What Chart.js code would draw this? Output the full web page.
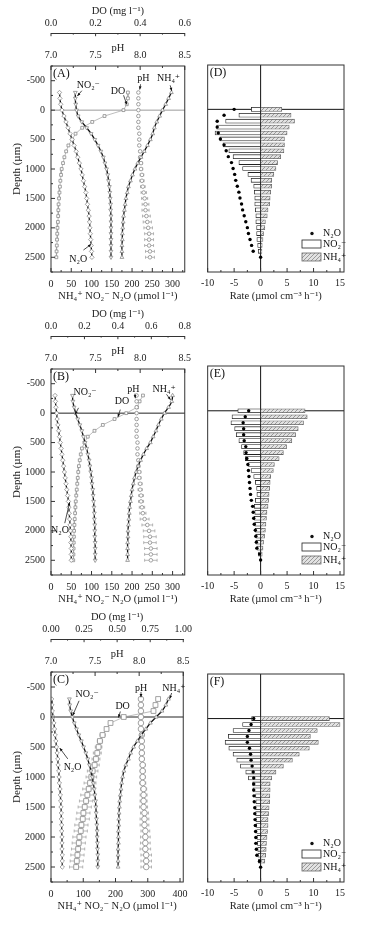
<!DOCTYPE html>
<html>
<head>
<meta charset="utf-8">
<script src="https://cdn.jsdelivr.net/npm/chart.js@4.4.1/dist/chart.umd.min.js"></script>
<style>
  body { margin: 0; background: #fff; width: 365px; height: 931px; position: relative; overflow: hidden; }
  canvas { position: absolute; }
</style>
</head>
<body>
<script>
// depth of each profile reading (µm)
const depths = [-300, -200, -100, 0, 100, 200, 300, 400, 500, 600, 700, 800, 900, 1000, 1100, 1200, 1300, 1400, 1500, 1600, 1700, 1800, 1900, 2000, 2100, 2200, 2300, 2400, 2500];
// depth of each rate bar / dot (µm)
const rateDepths = [0, 100, 200, 300, 400, 500, 600, 700, 800, 900, 1000, 1100, 1200, 1300, 1400, 1500, 1600, 1700, 1800, 1900, 2000, 2100, 2200, 2300, 2400, 2500];

// tick labels
const depthTicks = [-500, 0, 500, 1000, 1500, 2000, 2500];
const phTicks = [7.0, 7.5, 8.0, 8.5];
const concTicksAB = [0, 50, 100, 150, 200, 250, 300];
const concTicksC = [0, 100, 200, 300, 400];
const doTicksA = [0, 0.2, 0.4, 0.6];
const doTicksB = [0, 0.2, 0.4, 0.6, 0.8];
const doTicksC = [0, 0.25, 0.5, 0.75, 1.0];
const rateTicks = [-10, -5, 0, 5, 10, 15];

// panel A profiles
const aN2O = [21, 22, 24, 27, 32, 37, 42, 47, 52, 57, 62, 66, 70, 74, 77, 80, 83, 86, 88, 90, 92, 94, 95, 96, 97, 98, 99, 100, 101];
const aNO2 = [60, 60, 61, 63, 67, 76, 88, 99, 108, 116, 123, 129, 133, 137, 140, 142, 144, 145, 146, 147, 147, 148, 148, 148, 148, 148, 148, 148, 148];
const aNH4 = [297, 290, 283, 275, 268, 261, 255, 251, 245, 238, 230, 222, 214, 207, 201, 196, 191, 188, 185, 183, 181, 179, 178, 177, 176, 176, 175, 175, 175];
const aDO = [0.345, 0.345, 0.34, 0.325, 0.24, 0.185, 0.14, 0.11, 0.095, 0.078, 0.068, 0.06, 0.054, 0.048, 0.045, 0.042, 0.04, 0.038, 0.036, 0.034, 0.033, 0.032, 0.031, 0.029, 0.028, 0.027, 0.026, 0.025, 0.024];
const aPH = [7.98, 7.98, 7.98, 7.98, 7.98, 7.98, 7.98, 7.99, 7.99, 7.99, 8.00, 8.00, 8.01, 8.01, 8.02, 8.02, 8.03, 8.04, 8.05, 8.06, 8.06, 8.07, 8.08, 8.09, 8.10, 8.10, 8.10, 8.11, 8.11];
const aPHErr = [0.005, 0.005, 0.005, 0.005, 0.005, 0.005, 0.008, 0.008, 0.01, 0.01, 0.012, 0.014, 0.016, 0.018, 0.02, 0.024, 0.026, 0.03, 0.034, 0.038, 0.04, 0.044, 0.046, 0.048, 0.05, 0.05, 0.05, 0.05, 0.05];

// panel B profiles
const bN2O = [10, 11, 12, 14, 15, 17, 19, 21, 23, 25, 27, 29, 31, 33, 35, 37, 39, 41, 43, 44, 45, 46, 47, 48, 49, 49, 50, 50, 50];
const bNO2 = [53, 54, 57, 61, 66, 71, 76, 80, 84, 88, 91, 94, 96, 98, 100, 101, 103, 104, 105, 106, 107, 107, 108, 108, 108, 109, 109, 109, 109];
const bNH4 = [300, 298, 290, 280, 272, 265, 259, 252, 245, 236, 228, 221, 215, 210, 206, 203, 200, 198, 196, 194, 193, 192, 191, 190, 190, 189, 189, 189, 189];
const bDO = [0.55, 0.53, 0.515, 0.45, 0.38, 0.31, 0.26, 0.22, 0.2, 0.185, 0.178, 0.172, 0.167, 0.163, 0.16, 0.157, 0.154, 0.151, 0.148, 0.146, 0.144, 0.142, 0.14, 0.138, 0.137, 0.136, 0.135, 0.134, 0.133];
const bPH = [7.96, 7.96, 7.96, 7.96, 7.96, 7.96, 7.96, 7.96, 7.97, 7.97, 7.97, 7.98, 7.98, 7.99, 7.99, 8.00, 8.00, 8.01, 8.01, 8.02, 8.03, 8.05, 8.08, 8.10, 8.11, 8.11, 8.12, 8.12, 8.12];
const bPHErr = [0.005, 0.005, 0.005, 0.005, 0.005, 0.005, 0.006, 0.008, 0.008, 0.01, 0.012, 0.014, 0.016, 0.018, 0.02, 0.022, 0.024, 0.026, 0.028, 0.03, 0.035, 0.05, 0.06, 0.065, 0.07, 0.07, 0.07, 0.07, 0.07];

// panel C profiles
const cN2O = [2, 3, 4, 7, 9, 11, 13, 15, 17, 19, 21, 22, 24, 25, 26, 28, 29, 30, 31, 32, 32, 33, 33, 34, 34, 34, 35, 35, 35];
const cNO2 = [57, 58, 61, 66, 72, 79, 86, 94, 101, 108, 114, 119, 124, 128, 131, 134, 136, 138, 139, 140, 141, 142, 143, 143, 144, 144, 145, 145, 145];
const cNH4 = [364, 356, 344, 326, 308, 294, 280, 268, 256, 247, 240, 232, 226, 222, 219, 217, 215, 213, 212, 211, 210, 210, 209, 209, 209, 208, 208, 208, 208];
const cDO = [0.81, 0.79, 0.775, 0.55, 0.45, 0.42, 0.39, 0.37, 0.36, 0.35, 0.34, 0.33, 0.315, 0.305, 0.295, 0.285, 0.275, 0.265, 0.255, 0.245, 0.24, 0.23, 0.225, 0.215, 0.21, 0.205, 0.2, 0.195, 0.19];
const cDOErr = [0.005, 0.005, 0.005, 0.01, 0.01, 0.015, 0.02, 0.02, 0.025, 0.03, 0.03, 0.035, 0.04, 0.04, 0.045, 0.045, 0.05, 0.05, 0.05, 0.05, 0.05, 0.05, 0.05, 0.05, 0.05, 0.05, 0.05, 0.05, 0.05];
const cPH = [8.02, 8.02, 8.02, 8.02, 8.02, 8.02, 8.03, 8.03, 8.03, 8.03, 8.03, 8.04, 8.04, 8.04, 8.04, 8.05, 8.05, 8.05, 8.05, 8.06, 8.06, 8.06, 8.07, 8.07, 8.07, 8.07, 8.08, 8.08, 8.08];
const cPHErr = [0.01, 0.01, 0.01, 0.01, 0.015, 0.015, 0.02, 0.02, 0.02, 0.025, 0.025, 0.03, 0.03, 0.03, 0.035, 0.035, 0.04, 0.04, 0.045, 0.045, 0.05, 0.05, 0.05, 0.055, 0.055, 0.06, 0.06, 0.06, 0.06];

// rates (µmol cm-3 h-1), bars for 0..2400, dots for 0..2500
const dNO2 = [-1.75, -4.1, -6.6, -8.3, -8.6, -7.7, -7.1, -6.0, -5.2, -4.1, -3.4, -2.4, -1.8, -1.3, -1.2, -1.1, -1.1, -1.0, -0.9, -0.9, -0.75, -0.75, -0.7, -0.55, -0.45];
const dNH4 = [4.0, 5.75, 6.4, 5.4, 5.0, 4.5, 4.5, 4.4, 3.8, 3.2, 2.9, 2.5, 2.1, 2.1, 1.9, 1.8, 1.7, 1.4, 1.25, 0.9, 0.8, 0.55, 0.45, 0.3, 0.25];
const dN2O = [-5.0, -6.9, -8.2, -8.2, -8.0, -7.6, -6.9, -6.5, -6.1, -5.5, -5.2, -4.9, -4.7, -4.4, -4.1, -3.9, -3.6, -3.4, -3.1, -2.8, -2.5, -2.3, -2.0, -1.7, -1.4, 0];

const eNO2 = [-4.3, -5.4, -5.6, -4.9, -4.6, -4.1, -3.6, -3.2, -2.9, -2.3, -1.8, -1.3, -1.0, -0.75, -0.7, -1.0, -1.2, -1.1, -1.2, -1.1, -1.0, -0.9, -0.9, -0.7, -0.4];
const eNH4 = [8.4, 8.8, 8.1, 7.1, 6.6, 5.9, 4.9, 4.3, 3.5, 2.6, 2.4, 1.9, 1.8, 1.7, 1.6, 1.5, 1.4, 1.2, 1.1, 1.0, 0.9, 0.75, 0.55, 0.45, 0.3];
const eN2O = [-2.25, -2.9, -3.3, -3.2, -3.2, -3.1, -2.8, -2.75, -2.6, -2.4, -2.3, -2.2, -2.1, -2.0, -1.9, -1.75, -1.5, -1.4, -1.3, -1.2, -1.0, -0.9, -0.8, -0.7, -0.2, 0];

const fNO2 = [-1.7, -3.4, -5.2, -6.1, -6.7, -6.0, -5.2, -4.5, -3.8, -2.8, -2.3, -1.5, -1.45, -0.95, -0.9, -0.95, -0.95, -0.9, -0.8, -0.75, -0.7, -0.6, -0.55, -0.5, -0.4];
const fNH4 = [13.0, 15.0, 10.7, 9.4, 10.9, 9.2, 7.3, 6.0, 4.3, 2.9, 2.1, 1.8, 1.8, 1.75, 1.7, 1.6, 1.5, 1.4, 1.4, 1.3, 1.2, 1.1, 1.05, 0.95, 0.8];
const fN2O = [-1.3, -1.8, -2.2, -2.5, -2.5, -2.1, -1.9, -1.8, -1.6, -1.4, -1.3, -1.3, -1.3, -1.25, -1.2, -1.1, -1.1, -1.05, -1.0, -0.95, -0.9, -0.9, -0.8, -0.7, -0.2, 0];

const GRAY = '#8a8a8a';
const FONT = "'Liberation Serif', 'DejaVu Serif', serif";
Chart.defaults.font.family = FONT;
Chart.defaults.font.size = 10;
Chart.defaults.color = '#222';
Chart.defaults.animation = false;

// diagonal hatch for the NH4+ bars
function makeHatch() {
  const c = document.createElement('canvas');
  c.width = 4; c.height = 4;
  const g = c.getContext('2d');
  g.fillStyle = '#e2e2e2';
  g.fillRect(0, 0, 4, 4);
  g.strokeStyle = '#888';
  g.lineWidth = 0.8;
  g.beginPath();
  g.moveTo(0, 4); g.lineTo(4, 0);
  g.moveTo(-1, 1); g.lineTo(1, -1);
  g.moveTo(3, 5); g.lineTo(5, 3);
  g.stroke();
  return g.createPattern(c, 'repeat');
}
const HATCH = makeHatch();

function arrow(ctx, x1, y1, x2, y2) {
  const ang = Math.atan2(y2 - y1, x2 - x1);
  ctx.beginPath();
  ctx.moveTo(x1, y1);
  ctx.lineTo(x2, y2);
  ctx.stroke();
  ctx.beginPath();
  ctx.moveTo(x2, y2);
  ctx.lineTo(x2 - 3.5 * Math.cos(ang - 0.4), y2 - 3.5 * Math.sin(ang - 0.4));
  ctx.lineTo(x2 - 3.5 * Math.cos(ang + 0.4), y2 - 3.5 * Math.sin(ang + 0.4));
  ctx.closePath();
  ctx.fill();
}

// inward major/minor tick marks on one scale
function drawMarks(ctx, chart, spec) {
  const s = chart.scales[spec.id];
  const a = chart.chartArea;
  const vals = s.ticks.map(t => t.value);
  const list = [];
  const half = (vals[1] - vals[0]) / 2;
  vals.forEach((v, i) => {
    list.push([v, 4]);
    if (i < vals.length - 1) list.push([(v + vals[i + 1]) / 2, 2]);
  });
  if (vals[0] - half >= s.min) list.push([vals[0] - half, 2]);
  if (vals[vals.length - 1] + half <= s.max) list.push([vals[vals.length - 1] + half, 2]);
  ctx.beginPath();
  list.forEach(([v, len]) => {
    const p = s.getPixelForValue(v);
    if (spec.side === 'bottom') { ctx.moveTo(p, a.bottom); ctx.lineTo(p, a.bottom - len); }
    else if (spec.side === 'top') { ctx.moveTo(p, a.top); ctx.lineTo(p, a.top + len); }
    else if (spec.side === 'left') { ctx.moveTo(a.left, p); ctx.lineTo(a.left + len, p); }
    else { ctx.moveTo(p, s.bottom); ctx.lineTo(p, s.bottom + len * 0.8); }
  });
  ctx.stroke();
}

const decor = {
  id: 'decor',
  beforeDatasetsDraw(chart, args, o) {
    const { ctx, chartArea: a, scales } = chart;
    ctx.save();
    ctx.strokeStyle = o.zeroColor;
    ctx.lineWidth = 1;
    const y0 = scales.y.getPixelForValue(0);
    ctx.beginPath();
    ctx.moveTo(a.left, y0); ctx.lineTo(a.right, y0);
    if (o.vZero) {
      const x0 = scales.x.getPixelForValue(0);
      ctx.moveTo(x0, a.top); ctx.lineTo(x0, a.bottom);
    }
    ctx.stroke();
    // horizontal error bars
    ctx.strokeStyle = '#9a9a9a';
    ctx.lineWidth = 0.7;
    chart.data.datasets.forEach((ds, i) => {
      if (!ds.errs) return;
      const meta = chart.getDatasetMeta(i);
      const xs = chart.scales[meta.xAxisID];
      meta.data.forEach((pt, j) => {
        const v = ds.data[j].x, e = ds.errs[j];
        const x1 = xs.getPixelForValue(v - e), x2 = xs.getPixelForValue(v + e);
        ctx.beginPath();
        ctx.moveTo(x1, pt.y); ctx.lineTo(x2, pt.y);
        ctx.moveTo(x1, pt.y - 1.5); ctx.lineTo(x1, pt.y + 1.5);
        ctx.moveTo(x2, pt.y - 1.5); ctx.lineTo(x2, pt.y + 1.5);
        ctx.stroke();
      });
    });
    ctx.restore();
  },
  afterDraw(chart, args, o) {
    const { ctx, chartArea: a, scales } = chart;
    ctx.save();
    ctx.strokeStyle = '#333';
    ctx.lineWidth = 1;
    ctx.strokeRect(a.left, a.top, a.width, a.height);
    o.marks.forEach(m => drawMarks(ctx, chart, m));

    ctx.fillStyle = '#111';
    ctx.font = '12px ' + FONT;
    ctx.textAlign = 'left';
    ctx.textBaseline = 'middle';
    ctx.fillText(o.label, a.left + 2, a.top + 8);

    ctx.font = '10px ' + FONT;
    ctx.textAlign = 'center';
    ctx.lineWidth = 0.8;
    ctx.strokeStyle = '#222';
    ctx.fillStyle = '#111';
    const xs = scales.x, ys = scales.y;
    o.notes.forEach(n => {
      ctx.fillText(n.t, xs.getPixelForValue(n.x), ys.getPixelForValue(n.y));
      arrow(ctx, xs.getPixelForValue(n.sx), ys.getPixelForValue(n.sy), xs.getPixelForValue(n.ax), ys.getPixelForValue(n.ay));
    });

    if (o.legend) {
      const r = a.right, b = a.bottom;
      ctx.textAlign = 'left';
      ctx.beginPath();
      ctx.arc(r - 32, b - 38.5, 1.7, 0, Math.PI * 2);
      ctx.fill();
      ctx.fillText('N₂O', r - 21, b - 38.5);
      ctx.fillStyle = '#fff';
      ctx.fillRect(r - 42, b - 32, 19, 8);
      ctx.strokeRect(r - 42, b - 32, 19, 8);
      ctx.fillStyle = HATCH;
      ctx.fillRect(r - 42, b - 19, 19, 8);
      ctx.strokeStyle = '#666';
      ctx.strokeRect(r - 42, b - 19, 19, 8);
      ctx.fillStyle = '#111';
      ctx.fillText('NO₂⁻', r - 21, b - 28);
      ctx.fillText('NH₄⁺', r - 21, b - 15);
    }
    ctx.restore();
  }
};

function fixedTicks(list) {
  return scale => { scale.ticks = list.map(v => ({ value: v })); };
}

function hAxis(pos, min, max, ticks, digits, title, titlePad, labelPad, extra) {
  return Object.assign({
    type: 'linear',
    position: pos,
    min: min,
    max: max,
    afterBuildTicks: fixedTicks(ticks),
    afterFit: s => { s.height = 33; },
    grid: { display: false, drawTicks: false },
    border: { display: false },
    ticks: { autoSkip: false, maxRotation: 0, padding: labelPad, callback: v => v.toFixed(digits) },
    title: { display: true, text: title, font: { size: 10.5 }, padding: titlePad }
  }, extra || {});
}

function depthAxis() {
  return {
    type: 'linear',
    position: 'left',
    min: -750,
    max: 2750,
    reverse: true,
    afterBuildTicks: fixedTicks(depthTicks),
    afterFit: s => { s.width = 51; },
    grid: { display: false, drawTicks: false },
    border: { display: false },
    ticks: { autoSkip: false, padding: 6, callback: v => String(v) },
    title: { display: true, text: 'Depth (µm)', font: { size: 11 }, padding: { top: 11, bottom: 0 } }
  };
}

function canvasAt(left, top, w, h) {
  const c = document.createElement('canvas');
  c.width = w;
  c.height = h;
  c.style.cssText = `left:${left}px;top:${top}px;width:${w}px;height:${h}px`;
  document.body.appendChild(c);
  return c;
}

function pts(vals) {
  return depths.map((d, i) => ({ x: vals[i], y: d }));
}

function profileChart(canvas, p) {
  const line = { showLine: true, borderColor: '#111', borderWidth: 1.3, tension: 0.4, pointBorderColor: GRAY, pointBackgroundColor: '#fff', pointBorderWidth: 0.8, pointRadius: 2.2 };
  const datasets = [
    Object.assign({ xAxisID: 'x', data: pts(p.n2o), pointStyle: 'rectRot' }, line),
    Object.assign({ xAxisID: 'x', data: pts(p.no2), pointStyle: 'triangle', pointRotation: 180 }, line),
    Object.assign({ xAxisID: 'x', data: pts(p.nh4), pointStyle: 'triangle' }, line),
    { xAxisID: 'ph', data: pts(p.ph), errs: p.phErr, showLine: false, pointStyle: 'circle', pointRadius: p.big ? 2.8 : 1.8, pointBorderColor: GRAY, pointBackgroundColor: '#fff', pointBorderWidth: 0.8 },
    { xAxisID: 'do', data: pts(p.dox), errs: p.doErr, showLine: true, borderColor: '#a0a0a0', borderWidth: 0.7, pointStyle: 'rect', pointRadius: p.big ? 3.4 : 2, pointBorderColor: GRAY, pointBackgroundColor: '#fff', pointBorderWidth: 0.8 }
  ];
  return new Chart(canvas, {
    type: 'scatter',
    data: { datasets: datasets },
    options: {
      responsive: false,
      animation: false,
      layout: { padding: { left: 0, right: 8, top: 0, bottom: 0 } },
      plugins: {
        legend: { display: false },
        tooltip: { enabled: false },
        decor: {
          label: p.label,
          zeroColor: p.zeroColor,
          vZero: false,
          legend: false,
          notes: p.notes,
          marks: [{ id: 'x', side: 'bottom' }, { id: 'y', side: 'left' }, { id: 'ph', side: 'top' }, { id: 'do', side: 'line' }]
        }
      },
      scales: {
        x: hAxis('bottom', 0, p.concMax, p.concTicks, 0, 'NH₄⁺ NO₂⁻ N₂O (µmol l⁻¹)', { top: 0, bottom: 2 }, 6),
        ph: hAxis('top', 7, 8.5, phTicks, 1, 'pH', { top: 9, bottom: 0 }, 5, { weight: 0 }),
        do: hAxis('top', 0, p.doMax, p.doTicks, p.doDigits, 'DO (mg l⁻¹)', { top: 5, bottom: 0 }, 4,
          { weight: 1, border: { display: true, color: '#333', width: 1 } }),
        y: depthAxis()
      }
    },
    plugins: [decor]
  });
}

function rateChart(canvas, r, padTop) {
  const bars = vals => vals.map((v, i) => ({ x: v, y: rateDepths[i] }));
  const barStyle = { type: 'bar', grouped: false, barThickness: 4, borderSkipped: false, borderWidth: 0.8, order: 1 };
  return new Chart(canvas, {
    type: 'bar',
    data: {
      datasets: [
        { type: 'scatter', data: bars(r.n2o), pointRadius: 1.7, pointBackgroundColor: '#000', pointBorderWidth: 0, order: 0 },
        Object.assign({ data: bars(r.no2), backgroundColor: '#fff', borderColor: '#222' }, barStyle),
        Object.assign({ data: bars(r.nh4), backgroundColor: HATCH, borderColor: '#666' }, barStyle)
      ]
    },
    options: {
      indexAxis: 'y',
      responsive: false,
      animation: false,
      layout: { padding: { left: 11, right: 21, top: padTop, bottom: 0 } },
      plugins: {
        legend: { display: false },
        tooltip: { enabled: false },
        decor: { label: r.label, zeroColor: '#111', vZero: true, legend: true, notes: [], marks: [{ id: 'x', side: 'bottom' }] }
      },
      scales: {
        x: hAxis('bottom', -10, 15.75, rateTicks, 0, 'Rate (µmol cm⁻³ h⁻¹)', { top: 0, bottom: 2 }, 5, { beginAtZero: false }),
        y: { type: 'linear', min: -750, max: 2750, reverse: true, offset: false, display: false }
      }
    },
    plugins: [decor]
  });
}

profileChart(canvasAt(0, 0, 196, 305), {
  label: '(A)', zeroColor: '#9a9a9a', big: false,
  n2o: aN2O, no2: aNO2, nh4: aNH4, dox: aDO, ph: aPH, phErr: aPHErr, doErr: null,
  concMax: 330, concTicks: concTicksAB, doMax: 0.6, doTicks: doTicksA, doDigits: 1,
  notes: [
    { t: 'NO₂⁻', x: 92, y: -420, sx: 76, sy: -330, ax: 65, ay: -240 },
    { t: 'DO', x: 165, y: -321, sx: 179, sy: -253, ax: 187, ay: -96 },
    { t: 'pH', x: 228, y: -535, sx: 221, sy: -440, ax: 219, ay: -350 },
    { t: 'NH₄⁺', x: 290, y: -535, sx: 294, sy: -422, ax: 298, ay: -326 },
    { t: 'N₂O', x: 67, y: 2534, sx: 80, sy: 2377, ax: 99, ay: 2280 }
  ]
});

profileChart(canvasAt(0, 303, 196, 305), {
  label: '(B)', zeroColor: '#222', big: false,
  n2o: bN2O, no2: bNO2, nh4: bNH4, dox: bDO, ph: bPH, phErr: bPHErr, doErr: null,
  concMax: 330, concTicks: concTicksAB, doMax: 0.8, doTicks: doTicksB, doDigits: 1,
  notes: [
    { t: 'NO₂⁻', x: 84, y: -360, sx: 68, sy: -90, ax: 59, ay: 27 },
    { t: 'DO', x: 175, y: -197, sx: 171, sy: -60, ax: 165, ay: 67 },
    { t: 'pH', x: 203, y: -400, sx: 207, sy: -330, ax: 208, ay: -253 },
    { t: 'NH₄⁺', x: 279, y: -400, sx: 285, sy: -320, ax: 295, ay: -226 },
    { t: 'N₂O', x: 22, y: 1993, sx: 34, sy: 1869, ax: 46, ay: 1515 }
  ]
});

profileChart(canvasAt(0, 606, 196, 309), {
  label: '(C)', zeroColor: '#222', big: true,
  n2o: cN2O, no2: cNO2, nh4: cNH4, dox: cDO, ph: cPH, phErr: cPHErr, doErr: cDOErr,
  concMax: 410, concTicks: concTicksC, doMax: 1.0, doTicks: doTicksC, doDigits: 2,
  notes: [
    { t: 'NO₂⁻', x: 112, y: -372, sx: 87, sy: -270, ax: 67, ay: -24 },
    { t: 'DO', x: 222, y: -176, sx: 215, sy: -91, ax: 209, ay: 10 },
    { t: 'pH', x: 279, y: -485, sx: 279, sy: -417, ax: 279, ay: -328 },
    { t: 'NH₄⁺', x: 381, y: -485, sx: 374, sy: -400, ax: 368, ay: -304 },
    { t: 'N₂O', x: 67, y: 838, sx: 52, sy: 698, ax: 27, ay: 517 }
  ]
});

rateChart(canvasAt(196, 0, 169, 305), { label: '(D)', no2: dNO2, nh4: dNH4, n2o: dN2O }, 65);
rateChart(canvasAt(196, 303, 169, 305), { label: '(E)', no2: eNO2, nh4: eNH4, n2o: eN2O }, 63);
rateChart(canvasAt(196, 606, 169, 309), { label: '(F)', no2: fNO2, nh4: fNH4, n2o: fN2O }, 68);
</script>
</body>
</html>
